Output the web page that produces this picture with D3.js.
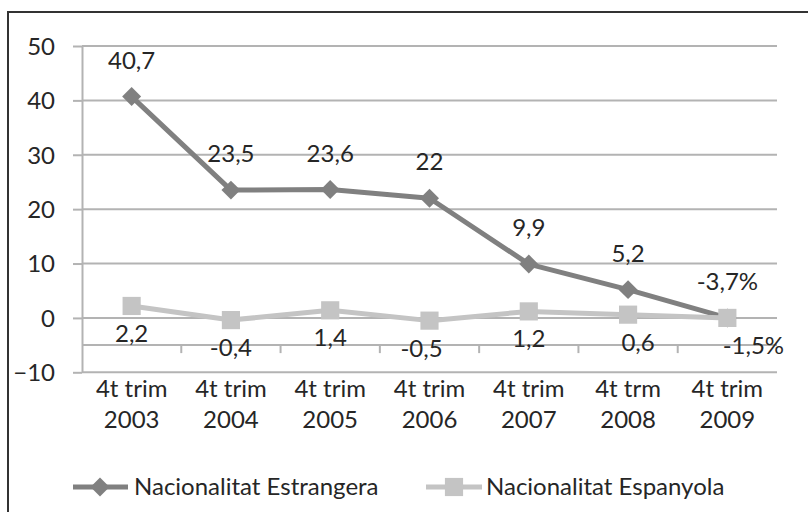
<!DOCTYPE html>
<html>
<head>
<meta charset="utf-8">
<script src="https://cdn.jsdelivr.net/npm/d3@7/dist/d3.min.js"></script>
<style>
  html, body { margin: 0; padding: 0; background: #fff; }
  svg { display: block; }
  text { font-family: Lato, "Open Sans", sans-serif; fill: #262626; }
</style>
</head>
<body>
<svg id="chart" width="808" height="512"></svg>
<script>
// ---- data ----
const categories = ["4t trim|2003", "4t trim|2004", "4t trim|2005", "4t trim|2006", "4t trim|2007", "4t trm|2008", "4t trim|2009"];
const estrangeraValues = [40.7, 23.5, 23.6, 22, 9.9, 5.2, 0];
const estrangeraLabels = ["40,7", "23,5", "23,6", "22", "9,9", "5,2", "-3,7%"];
const espanyolaValues = [2.2, -0.4, 1.4, -0.5, 1.2, 0.6, 0];
const espanyolaLabels = ["2,2", "-0,4", "1,4", "-0,5", "1,2", "0,6", "-1,5%"];
const yTicks = [-10, 0, 10, 20, 30, 40, 50];
const seriesNames = ["Nacionalitat Estrangera", "Nacionalitat Espanyola"];

// ---- layout ----
const FS = "24px";
const svg = d3.select("#chart");
const plot = { left: 82, right: 777, top: 46, bottom: 372.3 };
const x = d3.scaleBand().domain(d3.range(categories.length)).range([plot.left, plot.right]).padding(0);
const cx = i => x(i) + x.bandwidth() / 2;
const y = d3.scaleLinear().domain([-10, 50]).range([plot.bottom, plot.top]);

const c1 = "#808080", c2 = "#c4c4c4", gridC = "#b3b3b3";

// frame
svg.append("rect").attr("x", 8).attr("y", 12).attr("width", 820).attr("height", 530)
  .attr("fill", "none").attr("stroke", "#333").attr("stroke-width", 2);

// gridlines + y axis
const yAxis = d3.axisLeft(y).tickValues(yTicks).tickSize(9).tickSizeOuter(0).tickFormat(d3.format("d"));
const gy = svg.append("g").attr("transform", `translate(${plot.left},0)`).call(yAxis);
gy.select(".domain").attr("stroke", gridC).attr("stroke-width", 2);
gy.selectAll(".tick line").attr("stroke", gridC).attr("stroke-width", 2);
gy.selectAll(".tick text").attr("x", -27).attr("dy", "0.35em").style("font-size", FS)
  .style("font-family", "Lato, sans-serif").attr("fill", "#262626");
svg.append("g").selectAll("line").data(yTicks).join("line")
  .attr("x1", plot.left).attr("x2", plot.right)
  .attr("y1", d => y(d)).attr("y2", d => y(d))
  .attr("stroke", gridC).attr("stroke-width", 2);

// category axis crossing at -5
const xAxisY = y(-5);
svg.append("line").attr("x1", plot.left).attr("x2", plot.right)
  .attr("y1", xAxisY).attr("y2", xAxisY).attr("stroke", gridC).attr("stroke-width", 2);
svg.append("g").selectAll("line").data(d3.range(1, categories.length)).join("line")
  .attr("x1", d => x(d)).attr("x2", d => x(d))
  .attr("y1", xAxisY).attr("y2", xAxisY + 8)
  .attr("stroke", gridC).attr("stroke-width", 2);

// category labels
const catG = svg.append("g");
categories.forEach((c, i) => {
  const parts = c.split("|");
  const t = catG.append("text").attr("text-anchor", "middle").style("font-size", FS);
  t.append("tspan").attr("x", cx(i)).attr("y", 397).text(parts[0]);
  t.append("tspan").attr("x", cx(i)).attr("y", 428).text(parts[1]);
});

// series lines
const line = vals => d3.line().x((d, i) => cx(i)).y(d => y(d))(vals);
svg.append("path").attr("d", line(estrangeraValues)).attr("fill", "none")
  .attr("stroke", c1).attr("stroke-width", 5).attr("stroke-linejoin", "round");
const diamond = d3.symbol().type(d3.symbolSquare).size(180);
svg.append("g").selectAll("path").data(estrangeraValues).join("path")
  .attr("d", diamond)
  .attr("transform", (d, i) => `translate(${cx(i)},${y(d)}) rotate(45)`)
  .attr("fill", c1);

svg.append("path").attr("d", line(espanyolaValues)).attr("fill", "none")
  .attr("stroke", c2).attr("stroke-width", 5).attr("stroke-linejoin", "round");
const square = d3.symbol().type(d3.symbolSquare).size(330);
svg.append("g").selectAll("path").data(espanyolaValues).join("path")
  .attr("d", square)
  .attr("transform", (d, i) => `translate(${cx(i)},${y(d)})`)
  .attr("fill", c2);

// data labels
svg.append("g").selectAll("text").data(estrangeraValues).join("text")
  .attr("x", (d, i) => cx(i)).attr("y", d => y(d) - 28)
  .attr("text-anchor", "middle").style("font-size", FS)
  .text((d, i) => estrangeraLabels[i]);
const lowDx = { 3: -8, 5: 10, 6: 26 };
svg.append("g").selectAll("text").data(espanyolaValues).join("text")
  .attr("x", (d, i) => cx(i) + (lowDx[i] || 0)).attr("y", d => y(d) + 36)
  .attr("text-anchor", "middle").style("font-size", FS)
  .text((d, i) => espanyolaLabels[i]);

// legend
const lg = svg.append("g");
const ly = 487;
lg.append("line").attr("x1", 73).attr("x2", 128).attr("y1", ly).attr("y2", ly)
  .attr("stroke", c1).attr("stroke-width", 5);
lg.append("path").attr("d", diamond).attr("transform", `translate(100,${ly}) rotate(45)`).attr("fill", c1);
lg.append("text").attr("x", 134).attr("y", ly).attr("dy", "0.35em").style("font-size", FS).text(seriesNames[0]);
lg.append("line").attr("x1", 426).attr("x2", 482).attr("y1", ly).attr("y2", ly)
  .attr("stroke", c2).attr("stroke-width", 5);
lg.append("path").attr("d", square).attr("transform", `translate(454,${ly})`).attr("fill", c2);
lg.append("text").attr("x", 486).attr("y", ly).attr("dy", "0.35em").style("font-size", FS).text(seriesNames[1]);
</script>
</body>
</html>
